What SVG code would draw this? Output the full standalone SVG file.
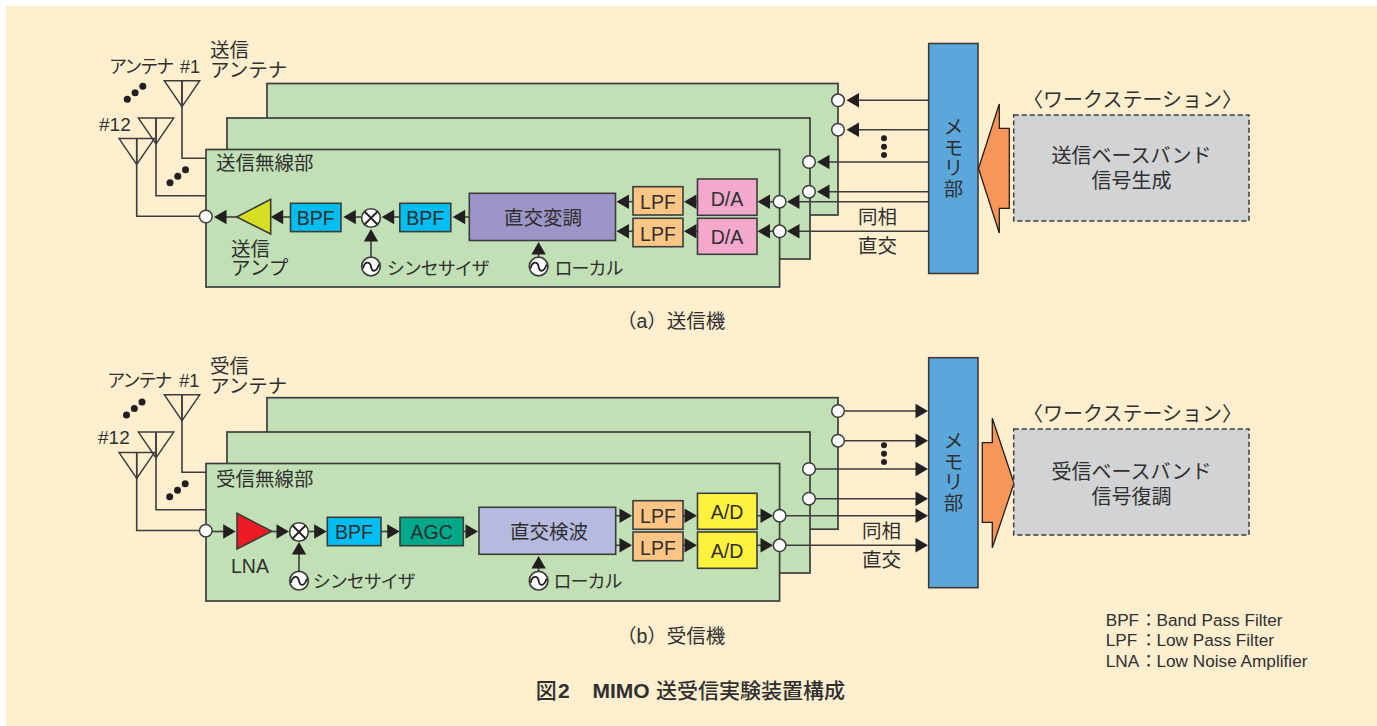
<svg xmlns="http://www.w3.org/2000/svg" width="1377" height="726" viewBox="0 0 1377 726">
<style>
text{font-family:"Liberation Sans","Noto Sans CJK JP",sans-serif;fill:#2f2f2f;font-size:19.5px}
.s{font-size:18px;letter-spacing:-1px}
.a{font-size:18px;letter-spacing:-2px}
.c{font-size:20px;text-anchor:middle}
.leg{font-size:17.200px}
.m{text-anchor:middle}
.b{stroke:#3c3c3c;stroke-width:1.600}
.plate{fill:#c2e0b5;stroke:#3c3c3c;stroke-width:1.700}
.wire{fill:none;stroke:#3c3c3c;stroke-width:1.600}
.ant{fill:none;stroke:#3c3c3c;stroke-width:1.400}
.port{fill:#fff;stroke:#3c3c3c;stroke-width:1.500}
.dot{fill:#231f20}
.mem{fill:#5ba7dc}
.bpf{fill:#00bdf2}
.lpf{fill:#fdc684}
.da{fill:#f3a8cc}
.ad{fill:#fff33f}
.ws{fill:#d1d3d4;stroke:#3c3c3c;stroke-width:1.500;stroke-dasharray:5 3}
.big{fill:#f69658;stroke:#231f20;stroke-width:1.300}
</style>
<defs>
<marker id="ah" markerUnits="userSpaceOnUse" markerWidth="15" markerHeight="16" refX="10" refY="8" orient="auto" viewBox="0 0 15 16"><path d="M0.500 0.800L13 8L0.500 15.200Z" fill="#231f20"/></marker>
<g id="mixer"><circle r="9.300" fill="#fff" stroke="#3c3c3c" stroke-width="1.600"/><path d="M-6.500-6.500L6.500 6.500M6.500-6.500L-6.500 6.500" stroke="#231f20" stroke-width="1.800"/></g>
<g id="osc"><circle r="9.300" fill="#fff" stroke="#3c3c3c" stroke-width="1.700"/><path d="M-8 2C-6.500-5.500-1-5.500 0 0S5 6.500 8-2" fill="none" stroke="#231f20" stroke-width="1.800"/></g>
<g id="antenna"><path class="ant" d="M0 0H35.500L17.700 26L0 0ZM17.700 0V26"/></g>
<g id="dots3"><circle cx="0" cy="0" r="3.500" class="dot"/><circle cx="7.800" cy="-6.500" r="3.500" class="dot"/><circle cx="15.500" cy="-13" r="3.500" class="dot"/></g>
<g id="vdots"><circle cx="0" cy="0" r="3" class="dot"/><circle cx="0" cy="8.400" r="3" class="dot"/><circle cx="0" cy="16.800" r="3" class="dot"/></g>
</defs>
<rect width="1377" height="726" fill="#fff"/>
<rect x="6" y="6" width="1371" height="720" fill="#ffefcf"/>

<g id="tx">
<g id="tx-plate-3"><rect class="plate" x="267" y="83.500" width="571" height="131.500"/></g>
<g id="tx-plate-2"><rect class="plate" x="227" y="118" width="583" height="141"/></g>
<g id="tx-plate-1"><rect class="plate" x="206" y="149.500" width="573.600" height="137.500"/><text x="216" y="170">送信無線部</text></g>
<g id="tx-connectors">
<path class="wire" d="M182 80.700V158.300H206M156 118V195.700H206M136.700 138.300V216.300H199"/>
<path class="wire" marker-end="url(#ah)" d="M929 100.300H849.500"/>
<path class="wire" marker-end="url(#ah)" d="M929 129.700H849.500"/>
<path class="wire" marker-end="url(#ah)" d="M929 162H820"/>
<path class="wire" marker-end="url(#ah)" d="M929 191.700H820"/>
<path class="wire" marker-end="url(#ah)" d="M929 201.700H790"/>
<path class="wire" marker-end="url(#ah)" d="M929 231.300H790"/>
<path class="wire" marker-end="url(#ah)" d="M773 201.700H760.500"/>
<path class="wire" marker-end="url(#ah)" d="M773 231.300H760.500"/>
<path class="wire" marker-end="url(#ah)" d="M698 201.700H687"/>
<path class="wire" marker-end="url(#ah)" d="M698 231.300H687"/>
<path class="wire" marker-end="url(#ah)" d="M633 201.700H619.500"/>
<path class="wire" marker-end="url(#ah)" d="M633 231.300H619.500"/>
<path class="wire" marker-end="url(#ah)" d="M469 217H455.700"/>
<path class="wire" marker-end="url(#ah)" d="M400 217H384.700"/>
<path class="wire" marker-end="url(#ah)" d="M361 217H346.300"/>
<path class="wire" marker-end="url(#ah)" d="M290 217H273.700"/>
<path class="wire" marker-end="url(#ah)" d="M237 217H217"/>
<path class="wire" marker-end="url(#ah)" d="M371 257V232"/>
<path class="wire" marker-end="url(#ah)" d="M538.600 257V245"/>
</g>
<g id="tx-ant-1"><use href="#antenna" x="164.300" y="80.700"/></g>
<g id="tx-ant-2"><use href="#antenna" x="138.300" y="118"/></g>
<g id="tx-ant-12"><use href="#antenna" x="119" y="138.500"/></g>
<g id="tx-antenna-labels"><text><tspan x="210" y="57">送信</tspan><tspan x="210" y="76.500">アンテナ</tspan></text><text x="109" y="73.300" class="a">アンテナ</text><text x="180" y="73.300" style="font-size:18px">#1</text><text x="99" y="131" style="font-size:19px">#12</text></g>
<use href="#dots3" x="127.300" y="99.300"/>
<use href="#dots3" x="170" y="182.700"/>
<use href="#vdots" x="884" y="138.300"/>
<g id="tx-ports"><circle class="port" cx="838" cy="100.300" r="6.300"/><circle class="port" cx="838" cy="129.700" r="6.300"/><circle class="port" cx="809" cy="162" r="6.300"/><circle class="port" cx="809" cy="191.700" r="6.300"/><circle class="port" cx="779.600" cy="201.700" r="6.300"/><circle class="port" cx="779.600" cy="231.300" r="6.300"/><circle class="port" cx="205.800" cy="216.500" r="6.300"/></g>
<g id="tx-amp"><path class="b" fill="#d7df23" d="M236.700 217L270.700 199.300V234Z"/><text><tspan x="231" y="255.700">送信</tspan><tspan x="231" y="275">アンプ</tspan></text></g>
<g id="tx-bpf1"><rect class="b bpf" x="290.500" y="203.300" width="50.500" height="28.300"/><text class="m" x="315.800" y="225">BPF</text></g>
<g id="tx-mixer"><use href="#mixer" x="371" y="218"/></g>
<g id="tx-bpf2"><rect class="b bpf" x="399.800" y="203.300" width="51" height="28.300"/><text class="m" x="425.300" y="225">BPF</text></g>
<g id="tx-synth"><use href="#osc" x="371" y="266.500"/><text class="s" x="386.700" y="275">シンセサイザ</text></g>
<g id="tx-mod"><rect class="b" fill="#9d94c8" x="469.300" y="193.300" width="146.200" height="47.200"/><text class="m" x="543" y="225">直交変調</text></g>
<g id="tx-local"><use href="#osc" x="538.600" y="266.500"/><text class="s" x="554.600" y="275">ローカル</text></g>
<g id="tx-lpf1"><rect class="b lpf" x="633" y="186.700" width="50" height="28.300"/><text class="m" x="658" y="209">LPF</text></g>
<g id="tx-lpf2"><rect class="b lpf" x="633" y="218.300" width="50" height="28.400"/><text class="m" x="658" y="240.500">LPF</text></g>
<g id="tx-da1"><rect class="b da" x="697.500" y="179" width="59.500" height="36.300"/><text class="m" x="727" y="206">D/A</text></g>
<g id="tx-da2"><rect class="b da" x="697.500" y="218.300" width="59.500" height="36"/><text class="m" x="727" y="244">D/A</text></g>
<g id="tx-mem"><rect class="b mem" x="928.700" y="43.500" width="49.300" height="230"/><text class="m" x="953.600 953.600 953.600 953.600" y="134 154.500 174.500 196">メモリ部</text></g>
<path class="big" d="M978.500 168.500L999.300 104V128.300H1009.300V208.300H999.300V233Z"/>
<g id="tx-ws"><rect class="ws" x="1013.700" y="115" width="235.300" height="106"/><text class="c" x="1131.500" y="163">送信ベースバンド</text><text class="c" x="1131.500" y="188">信号生成</text></g>
<text class="c" x="1132.500" y="106.500">〈ワークステーション〉</text>
<text x="858" y="224">同相</text><text x="858" y="253">直交</text>
<text x="617" y="328">（a）送信機</text>
</g>

<g id="rx">
<g id="rx-plate-3"><rect class="plate" x="267" y="397.700" width="571" height="131.500"/></g>
<g id="rx-plate-2"><rect class="plate" x="227" y="432" width="583" height="141"/></g>
<g id="rx-plate-1"><rect class="plate" x="206" y="463.500" width="573.600" height="137.500"/><text x="216" y="486">受信無線部</text></g>
<g id="rx-connectors">
<path class="wire" d="M182 394.700V472.300H206M156 432V509.700H206M136.700 452.300V530.500H199"/>
<path class="wire" marker-end="url(#ah)" d="M838 411H925"/>
<path class="wire" marker-end="url(#ah)" d="M838 440.700H925"/>
<path class="wire" marker-end="url(#ah)" d="M809 469H925"/>
<path class="wire" marker-end="url(#ah)" d="M809 498.700H925"/>
<path class="wire" marker-end="url(#ah)" d="M780 515.700H925"/>
<path class="wire" marker-end="url(#ah)" d="M780 545.300H925"/>
<path class="wire" marker-end="url(#ah)" d="M757 515.700H770"/>
<path class="wire" marker-end="url(#ah)" d="M757 545.300H770"/>
<path class="wire" marker-end="url(#ah)" d="M683 515.700H694"/>
<path class="wire" marker-end="url(#ah)" d="M683 545.300H694"/>
<path class="wire" marker-end="url(#ah)" d="M615.700 515.700H629"/>
<path class="wire" marker-end="url(#ah)" d="M615.700 545.300H629"/>
<path class="wire" marker-end="url(#ah)" d="M463.300 531.500H475"/>
<path class="wire" marker-end="url(#ah)" d="M381 531.500H396.700"/>
<path class="wire" marker-end="url(#ah)" d="M308 531.500H323.700"/>
<path class="wire" marker-end="url(#ah)" d="M271 531.500H286"/>
<path class="wire" marker-end="url(#ah)" d="M212 531.500H232.700"/>
<path class="wire" marker-end="url(#ah)" d="M299 571V545"/>
<path class="wire" marker-end="url(#ah)" d="M538.600 571V559"/>
</g>
<g id="rx-ant-1"><use href="#antenna" x="164.300" y="394.700"/></g>
<g id="rx-ant-2"><use href="#antenna" x="138.300" y="432"/></g>
<g id="rx-ant-12"><use href="#antenna" x="119" y="452.500"/></g>
<g id="rx-antenna-labels"><text><tspan x="210" y="373">受信</tspan><tspan x="210" y="392.500">アンテナ</tspan></text><text x="107.300" y="387.300" class="a">アンテナ</text><text x="179.300" y="387.300" style="font-size:18px">#1</text><text x="98" y="444.300" style="font-size:19px">#12</text></g>
<use href="#dots3" x="126.500" y="415"/>
<use href="#dots3" x="169.700" y="496.700"/>
<use href="#vdots" x="884" y="445.300"/>
<g id="rx-ports"><circle class="port" cx="838" cy="411" r="6.300"/><circle class="port" cx="838" cy="440.700" r="6.300"/><circle class="port" cx="809" cy="469" r="6.300"/><circle class="port" cx="809" cy="498.700" r="6.300"/><circle class="port" cx="779.600" cy="515.700" r="6.300"/><circle class="port" cx="779.600" cy="545.300" r="6.300"/><circle class="port" cx="205.800" cy="530.700" r="6.300"/></g>
<g id="rx-lna"><path class="b" fill="#ed1c24" d="M237 513.300L271.700 531.300L237 549Z"/><text x="231" y="572.700">LNA</text></g>
<g id="rx-mixer"><use href="#mixer" x="299" y="532"/></g>
<g id="rx-bpf"><rect class="b bpf" x="327.300" y="517.300" width="53.700" height="28.400"/><text class="m" x="354" y="539">BPF</text></g>
<g id="rx-agc"><rect class="b" fill="#00a88a" x="400" y="517.300" width="63.300" height="28.400"/><text class="m" x="431.700" y="539">AGC</text></g>
<g id="rx-synth"><use href="#osc" x="299" y="580.700"/><text class="s" x="312.700" y="588">シンセサイザ</text></g>
<g id="rx-det"><rect class="b" fill="#b5bade" x="479" y="507.300" width="136.700" height="47"/><text class="m" x="549" y="539.300">直交検波</text></g>
<g id="rx-local"><use href="#osc" x="538.600" y="580.700"/><text class="s" x="553.600" y="588">ローカル</text></g>
<g id="rx-lpf1"><rect class="b lpf" x="633" y="500.700" width="50" height="28.600"/><text class="m" x="658" y="523">LPF</text></g>
<g id="rx-lpf2"><rect class="b lpf" x="633" y="532" width="50" height="28.700"/><text class="m" x="658" y="554.500">LPF</text></g>
<g id="rx-ad1"><rect class="b ad" x="697.500" y="493.300" width="59.500" height="36"/><text class="m" x="727" y="519.300">A/D</text></g>
<g id="rx-ad2"><rect class="b ad" x="697.500" y="532" width="59.500" height="36.300"/><text class="m" x="727" y="558">A/D</text></g>
<g id="rx-mem"><rect class="b mem" x="928.700" y="357.700" width="49.300" height="230"/><text class="m" x="953.600 953.600 953.600 953.600" y="448 468.500 488.500 510">メモリ部</text></g>
<path class="big" d="M982.300 442.700H992.300V418.300L1014 483.300L992.300 547.700V522.300H982.300Z"/>
<g id="rx-ws"><rect class="ws" x="1013.700" y="429" width="235.300" height="106"/><text class="c" x="1131.500" y="479.300">受信ベースバンド</text><text class="c" x="1131.500" y="504">信号復調</text></g>
<text class="c" x="1132.500" y="420.700">〈ワークステーション〉</text>
<text x="862" y="538">同相</text><text x="862" y="567">直交</text>
<text x="617" y="643">（b）受信機</text>
</g>

<g id="legend">
<text class="leg" x="1105.700" y="625.700">BPF<tspan x="1140">：</tspan><tspan x="1156.500">Band Pass Filter</tspan></text>
<text class="leg" x="1105.700" y="646">LPF<tspan x="1140">：</tspan><tspan x="1156.500">Low Pass Filter</tspan></text>
<text class="leg" x="1105.700" y="667">LNA<tspan x="1140">：</tspan><tspan x="1156.500">Low Noise Amplifier</tspan></text>
</g>
<text x="535.700" y="698" style="font-size:21px;font-weight:500">図<tspan x="558" font-weight="700">2</tspan><tspan x="592.500" font-weight="700">MIMO</tspan><tspan x="656">送受信実験装置構成</tspan></text>
</svg>
